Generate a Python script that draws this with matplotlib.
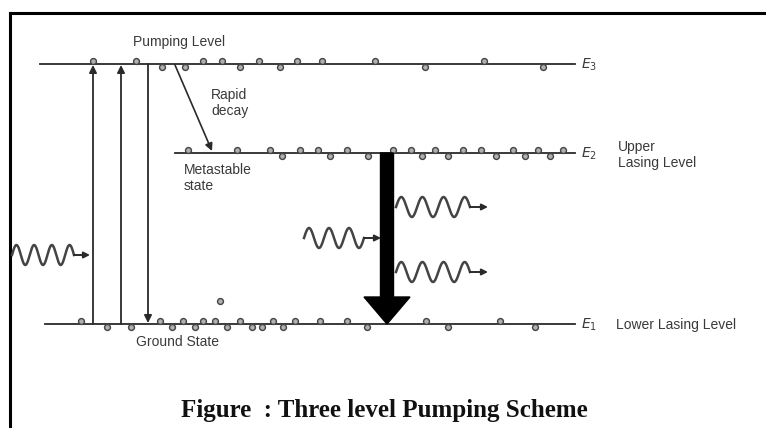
import numpy as np
import matplotlib
matplotlib.use("Agg")
import matplotlib.pyplot as plt
from matplotlib.patches import FancyArrow

# energy levels: name, y position (pixels from top), x start, x end
level_names = ["E3", "E2", "E1"]
level_y = [64, 153, 324]
level_x0 = [40, 175, 45]
level_x1 = [575, 575, 575]

# electrons sitting on each level: x position and side (+1 above, -1 below)
e3_x = [93, 136, 162, 185, 203, 222, 240, 259, 280, 297, 322, 375, 425, 484, 543]
e3_side = [1, 1, -1, -1, 1, 1, -1, 1, -1, 1, 1, 1, -1, 1, -1]
e2_x = [188, 237, 270, 282, 300, 318, 330, 347, 368, 393, 411, 422, 435, 448,
        463, 481, 496, 513, 525, 538, 550, 563]
e2_side = [1, 1, 1, -1, 1, 1, -1, 1, -1, 1, 1, -1, 1, -1, 1, 1, -1, 1, -1, 1, -1, 1]
e1_x = [81, 107, 131, 160, 172, 183, 195, 203, 215, 227, 240, 252, 262, 273,
        283, 295, 320, 347, 367, 426, 448, 500, 535]
e1_side = [1, -1, -1, 1, -1, 1, -1, 1, 1, -1, 1, -1, -1, 1, -1, 1, 1, 1, -1,
           1, -1, 1, -1]

# pump transitions (x position, direction)
pump_x = [93, 121, 148]
pump_up = [True, True, False]

ink = "#2a2a2a"
txt = "#3a3a3a"

fig = plt.figure(figsize=(7.66, 4.28), dpi=100)
ax = fig.add_axes([0, 0, 1, 1])
ax.set_xlim(0, 766)
ax.set_ylim(428, 0)
ax.axis("off")

# frame of the scanned figure
ax.plot([10, 766], [13, 13], color="black", lw=2.2)
ax.plot([10, 10], [13, 428], color="black", lw=2.2)

# levels
for name, y, x0, x1 in zip(level_names, level_y, level_x0, level_x1):
    ax.plot([x0, x1], [y, y], color=ink, lw=1.3, zorder=2)
    ax.text(x1 + 6, y + 1, "$E_%s$" % name[1], fontsize=10, color=txt,
            va="center", ha="left")

# electrons
for xs, sides, y in [(e3_x, e3_side, level_y[0]), (e2_x, e2_side, level_y[1]),
                     (e1_x, e1_side, level_y[2])]:
    ys = [y - 3 * s for s in sides]
    ax.scatter(xs, ys, s=18, facecolor="#b0b0b0", edgecolor="#444444",
               lw=1.0, zorder=3)
ax.scatter([220], [301], s=18, facecolor="#b0b0b0", edgecolor="#444444",
           lw=1.0, zorder=3)

# pumping arrows
for x, up in zip(pump_x, pump_up):
    if up:
        start, end = (x, level_y[2]), (x, level_y[0] + 1)
    else:
        start, end = (x, level_y[0]), (x, level_y[2] - 1)
    ax.annotate("", xy=end, xytext=start,
                arrowprops=dict(arrowstyle="-|>", color=ink, lw=1.3,
                                mutation_scale=11, shrinkA=0, shrinkB=0))

# rapid decay
ax.annotate("", xy=(212, 151), xytext=(175, 65),
            arrowprops=dict(arrowstyle="-|>", color=ink, lw=1.2,
                            mutation_scale=11, shrinkA=0, shrinkB=0))

# big lasing transition arrow
ax.add_patch(FancyArrow(387, level_y[1], 0, level_y[2] - level_y[1], width=13,
                        head_width=46, head_length=27,
                        length_includes_head=True, color="black", zorder=4))


def photon(x0, x1, xtip, y, periods, amp=10):
    # wavy photon ending in a short straight tail with an arrow head
    t = np.linspace(0, 1, 300)
    xs = x0 + (x1 - x0) * t
    ys = y - amp * np.sin(2 * np.pi * periods * t)
    ax.plot(xs, ys, color="#444444", lw=1.8, zorder=3)
    ax.annotate("", xy=(xtip, y), xytext=(x1, y),
                arrowprops=dict(arrowstyle="-|>", color=ink, lw=1.4,
                                mutation_scale=9, shrinkA=0, shrinkB=0))


photon(12, 74, 90, 255, 3.5)
photon(304, 364, 381, 238, 3.0)
photon(396, 470, 488, 207, 3.5)
photon(396, 470, 488, 272, 3.5)

# labels
lab = dict(fontsize=10, color=txt, va="center", family="Liberation Sans",
           linespacing=1.25, multialignment="left")
ax.text(133, 42, "Pumping Level", **lab)
ax.text(211, 103, "Rapid\ndecay", **lab)
ax.text(184, 178, "Metastable\nstate", **lab)
ax.text(618, 155, "Upper\nLasing Level", **lab)
ax.text(616, 325, "Lower Lasing Level", **lab)
ax.text(136, 342, "Ground State", **lab)

ax.text(384, 411, "Figure  : Three level Pumping Scheme", fontsize=18,
        fontweight="bold", family="Liberation Serif", ha="center",
        va="center", color="#111111")

fig.savefig("out.png", dpi=100)
